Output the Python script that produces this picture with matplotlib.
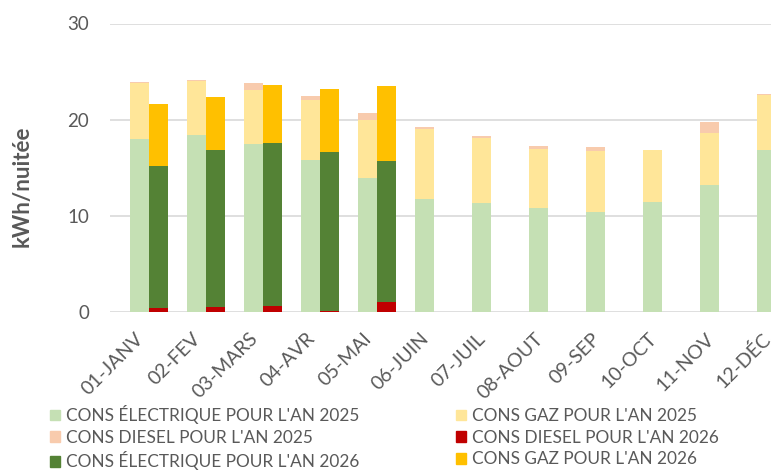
import numpy as np
import matplotlib.pyplot as plt
import matplotlib.transforms as mtransforms
from matplotlib.patches import Patch

plt.rcParams['font.family'] = ['Lato', 'DejaVu Sans']

## DATA ##
months = ["01-JANV", "02-FEV", "03-MARS", "04-AVR", "05-MAI", "06-JUIN",
          "07-JUIL", "08-AOUT", "09-SEP", "10-OCT", "11-NOV", "12-DÉC"]

# 2025 (full year)
elec_2025 = [18.0, 18.4, 17.5, 15.8, 14.0, 11.75, 11.4, 10.85, 10.45, 11.5, 13.2, 16.9]
gaz_2025 = [5.8, 5.6, 5.6, 6.25, 6.0, 7.3, 6.7, 6.15, 6.3, 5.35, 5.4, 5.65]
diesel_2025 = [0.1, 0.15, 0.7, 0.45, 0.75, 0.15, 0.2, 0.3, 0.4, 0.05, 1.2, 0.15]

# 2026 (first five months)
diesel_2026 = [0.45, 0.5, 0.7, 0.1, 1.1]
elec_2026 = [14.75, 16.4, 16.9, 16.5, 14.6]
gaz_2026 = [6.4, 5.5, 6.0, 6.55, 7.8]

# Colours
c_elec25, c_gaz25, c_dies25 = "#C5E0B4", "#FFE699", "#F8CBAD"
c_dies26, c_elec26, c_gaz26 = "#C00000", "#548235", "#FFC000"
grey = "#595959"

#############################
#        PLOTTING           #
#############################
fig = plt.figure(figsize=(7.71, 4.70), dpi=100)
ax = fig.add_axes([110 / 771, 157.7 / 470, 694.5 / 771, 288.8 / 470])

x = np.arange(len(months))
w = 1 / 3

# 2025 stack: electric, gas, diesel
e25 = np.array(elec_2025)
g25 = np.array(gaz_2025)
d25 = np.array(diesel_2025)
ax.bar(x - w / 2, e25, w, color=c_elec25)
ax.bar(x - w / 2, g25, w, bottom=e25, color=c_gaz25)
ax.bar(x - w / 2, d25, w, bottom=e25 + g25, color=c_dies25)

# 2026 stack: diesel, electric, gas
x26 = x[:len(elec_2026)]
d26 = np.array(diesel_2026)
e26 = np.array(elec_2026)
g26 = np.array(gaz_2026)
ax.bar(x26 + w / 2, d26, w, color=c_dies26)
ax.bar(x26 + w / 2, e26, w, bottom=d26, color=c_elec26)
ax.bar(x26 + w / 2, g26, w, bottom=d26 + e26, color=c_gaz26)

ax.set_xlim(-0.684, 11.5)
ax.set_ylim(0, 30)
ax.set_yticks([0, 10, 20, 30])
ax.yaxis.grid(True, color="#D9D9D9", linewidth=1.2)
ax.set_axisbelow(True)
for s in ax.spines.values():
    s.set_visible(False)
ax.tick_params(axis="both", length=0, colors=grey)
ax.tick_params(axis="y", labelsize=13.5, pad=15)

ax.set_xticks(x)
ax.set_xticklabels(months, rotation=45, ha="right", va="center",
                   rotation_mode="anchor", fontsize=14)
ax.tick_params(axis="x", pad=17)
# nudge the slanted month labels a little to the left
shift = mtransforms.ScaledTranslation(-8 / 100, 0, fig.dpi_scale_trans)
for lab in ax.get_xticklabels():
    lab.set_transform(lab.get_transform() + shift)

ax.set_ylabel("kWh/nuitée", fontsize=16, fontweight="bold", color=grey)
ax.yaxis.set_label_coords(-0.112, 0.437)

# Legend (filled column-wise)
handles = [
    Patch(color=c_elec25, label="CONS ÉLECTRIQUE POUR L'AN 2025"),
    Patch(color=c_dies25, label="CONS DIESEL POUR L'AN 2025"),
    Patch(color=c_elec26, label="CONS ÉLECTRIQUE POUR L'AN 2026"),
    Patch(color=c_gaz25, label="CONS GAZ POUR L'AN 2025"),
    Patch(color=c_dies26, label="CONS DIESEL POUR L'AN 2026"),
    Patch(color=c_gaz26, label="CONS GAZ POUR L'AN 2026"),
]
fig.legend(handles=handles, ncol=2, loc="upper left",
           bbox_to_anchor=(50 / 771, 1 - 405 / 470), frameon=False,
           fontsize=12.4, handlelength=0.58, handleheight=0.58,
           handletextpad=0.33, columnspacing=5.65, labelspacing=0.33,
           borderpad=0, borderaxespad=0, labelcolor=grey)

fig.savefig("out.png", dpi=100)
